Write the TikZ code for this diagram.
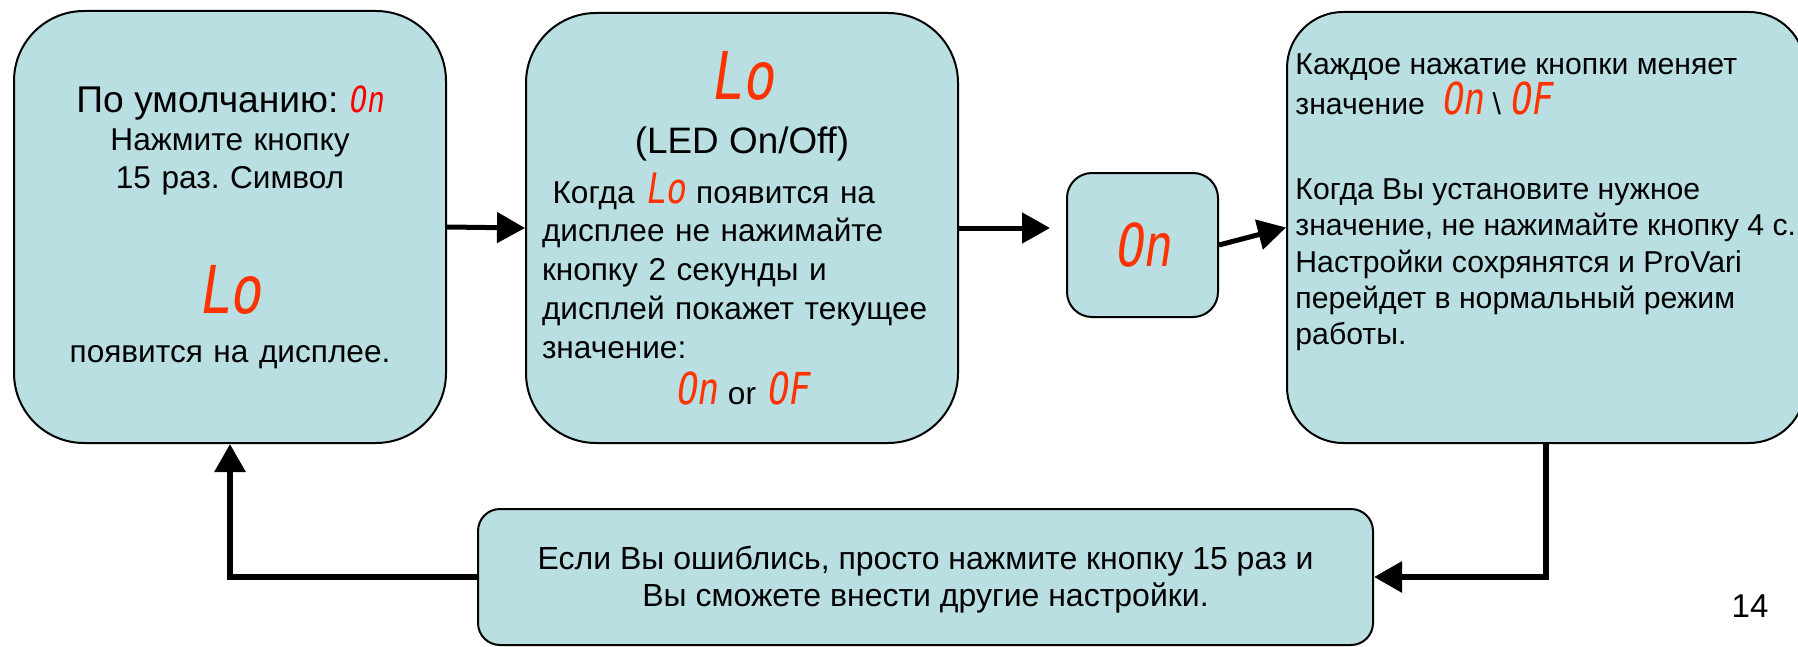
\documentclass[tikz,border=0pt]{standalone}
\usepackage{fontspec}
\setmainfont{Liberation Sans}
\newfontfamily\segfont[FakeSlant=0.15,FakeStretch=0.8]{DejaVu Sans Mono}
\usetikzlibrary{arrows.meta,positioning}
\setlength{\parindent}{0pt}
\frenchspacing
\definecolor{boxfill}{RGB}{185,223,226}
\definecolor{segred}{RGB}{255,51,0}
% seven segment display text
\newcommand{\seg}[3][segred]{{\segfont\fontsize{#2}{#2}\selectfont\color{#1}#3}}

\begin{document}
\begin{tikzpicture}[x=0.5pt,y=-0.5pt,
    font=\fontsize{15.8}{19}\selectfont,
    box/.style={draw, line width=1pt, fill=boxfill, rounded corners=35pt, inner sep=0pt},
    flow/.style={-{Triangle[length=14pt,width=15pt]}, line width=2.5pt}]
    \useasboundingbox (0,0) rectangle (1798,647);

    \node[box, minimum width=216pt, minimum height=216pt, text width=200pt] (box1) at (230,227) {%
      {\centering\fontsize{18.6}{19}\selectfont По умолчанию: \seg[red]{18}{On}\par}
      {\centering Нажмите кнопку\\15 раз. Символ\par}
      {\fontsize{15.8}{62.5}\selectfont\centering\seg{33}{Lo}\par}
      {\fontsize{15.8}{24.5}\selectfont\centering появится на дисплее.\par}};

    \node[box, minimum width=216pt, minimum height=215pt, text width=200pt] (box2) at (742,228) {%
      {\centering\seg{33}{Lo}\par}
      {\fontsize{18.4}{27}\selectfont\centering (LED On/Off)\par}
      \vspace{5.6pt}
      {\fontsize{15.8}{19.4}\selectfont\raggedright\ Когда \seg{21}{Lo} появится на\\дисплее не нажимайте\\кнопку 2 секунды и\\дисплей покажет текущее\\значение:\par}
      {\fontsize{15.8}{23}\selectfont\centering\seg{22}{On} or \seg{22}{OF}\par}};

    \node[box, rounded corners=12.5pt, minimum width=75.5pt, minimum height=72pt] (box3) at (1142.5,245) {\seg{29.5}{On}};

    \node[box, rounded corners=28pt, minimum width=259pt, minimum height=215.5pt] (box4) at (1546,227.5) {};
    \node[anchor=north west, align=left, inner sep=0pt, font=\fontsize{15.1}{18.2}\selectfont] (box4text) at (1295,53)
      {Каждое нажатие кнопки меняет\\значение \ \seg{22}{On} \textbackslash\ \seg{22}{OF}\\[24pt]%
       Когда Вы установите нужное\\значение, не нажимайте кнопку 4 с.\\Настройки сохрянятся и ProVari\\перейдет в нормальный режим\\работы.};

    \node[box, rounded corners=11pt, minimum width=447.5pt, minimum height=68pt, align=center,
      font=\fontsize{16}{18.5}\selectfont] (box5) at (925.5,577)
      {\rule{0pt}{14pt}Если Вы ошиблись, просто нажмите кнопку 15 раз и\\Вы сможете внести другие настройки.};

    \node[anchor=base, font=\fontsize{16.5}{20}\selectfont] (pagenum) at (1750,617) {14};

    \draw[flow] (box1.east) -- (box2.west);
    \draw[flow, shorten >=8pt] (box2.east) -- (box2.east -| box3.west);
    \draw[flow] (box3.east) -- (box4.west);

    % way back
    \draw[flow, line width=3pt] (box4.south) |- (box5.east);
    \draw[flow, line width=3pt] (box5.west) -| (box1.south);
\end{tikzpicture}
\end{document}
